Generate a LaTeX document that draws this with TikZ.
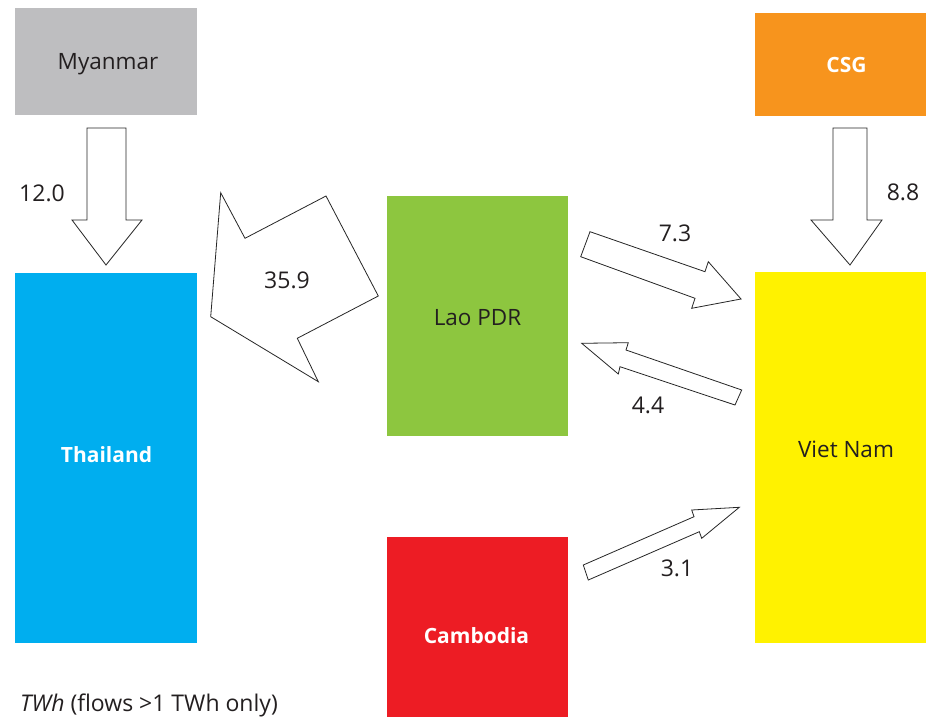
\documentclass[tikz,border=0pt]{standalone}
\usepackage{fontspec}
\setmainfont{Open Sans}
\definecolor{txt}{RGB}{35,31,32}
\definecolor{cmyan}{RGB}{190,190,192}
\definecolor{cthai}{RGB}{0,174,239}
\definecolor{clao}{RGB}{141,198,63}
\definecolor{ccam}{RGB}{237,28,36}
\definecolor{ccsg}{RGB}{247,148,29}
\definecolor{cviet}{RGB}{255,242,0}
\begin{document}
\begin{tikzpicture}[x=1pt,y=-1pt,
  box/.style={rectangle,inner sep=0pt,draw=none},
  lbl/.style={inner sep=0pt,anchor=base,text=txt,font=\fontsize{22.5}{26}\selectfont},
  wlbl/.style={inner sep=0pt,anchor=base,text=white,font=\fontsize{21}{25}\selectfont\bfseries},
  flow/.style={draw=black!85,line width=0.8pt,fill=white,line join=miter},
  num/.style={font=\fontsize{23}{26}\selectfont,text=txt,inner sep=0pt}]
\useasboundingbox (0,0) rectangle (926,717);
\fill[white] (0,0) rectangle (926,717);
% boxes
\node[box,fill=cmyan,minimum width=182pt,minimum height=107pt] (myan) at (106,61.5) {};
\node[box,fill=cthai,minimum width=182pt,minimum height=370pt] (thai) at (106,458) {};
\node[box,fill=clao,minimum width=181pt,minimum height=240pt] (lao) at (477.5,316) {};
\node[box,fill=ccam,minimum width=181pt,minimum height=194pt] (cam) at (477.5,634) {};
\node[box,fill=ccsg,minimum width=190pt,minimum height=103pt] (csg) at (850,64.5) {};
\node[box,fill=cviet,minimum width=190pt,minimum height=371pt] (viet) at (850,457.5) {};
% box labels
\node[lbl] (myantxt) at (108,70) {Myanmar};
\node[wlbl] (thaitxt) at (106.5,462) {Thailand};
\node[lbl] (laotxt) at (477.5,325) {Lao PDR};
\node[wlbl] (camtxt) at (476.5,643) {Cambodia};
\node[wlbl] (csgtxt) at (846.5,73) {CSG};
\node[lbl] (viettxt) at (846,457) {Viet Nam};
% flows
\draw[flow] (87,128) -- (126,128) -- (126,220) -- (142,220) -- (106,265) -- (72,220) -- (87,220) -- cycle;
\draw[flow] (833,128) -- (867,128) -- (867,220) -- (882,220) -- (850,265) -- (811,220) -- (833,220) -- cycle;
\draw[flow] (210.7,316.7) -- (220.7,192.7) -- (245,238.3) -- (326,196) -- (378.3,296) -- (297.3,338.3) -- (318.3,381.7) -- cycle;
\draw[flow] (590,231.7) -- (705,271.7) -- (708.3,261.7) -- (741,299) -- (691.7,308.3) -- (695,298.3) -- (580.7,256.7) -- cycle;
\draw[flow] (581.7,343.3) -- (628.3,342.7) -- (626,350) -- (741.7,390) -- (735,405) -- (620,366.7) -- (618.3,374) -- cycle;
\draw[flow] (583.3,565) -- (694,516.7) -- (691.7,510) -- (739.3,507.3) -- (701.7,538.3) -- (699.3,531.7) -- (588.3,580) -- cycle;
% numbers
\node[num] (n12) at (42,193) {12.0};
\node[num] (n88) at (903,192) {8.8};
\node[num] (n359) at (287,280) {35.9};
\node[num] (n73) at (675,233) {7.3};
\node[num] (n44) at (648,405) {4.4};
\node[num] (n31) at (677,568) {3.1};
\node[num,anchor=base west] (note) at (20,711) {\textit{TWh} (flows >1 TWh only)};
\end{tikzpicture}
\end{document}
